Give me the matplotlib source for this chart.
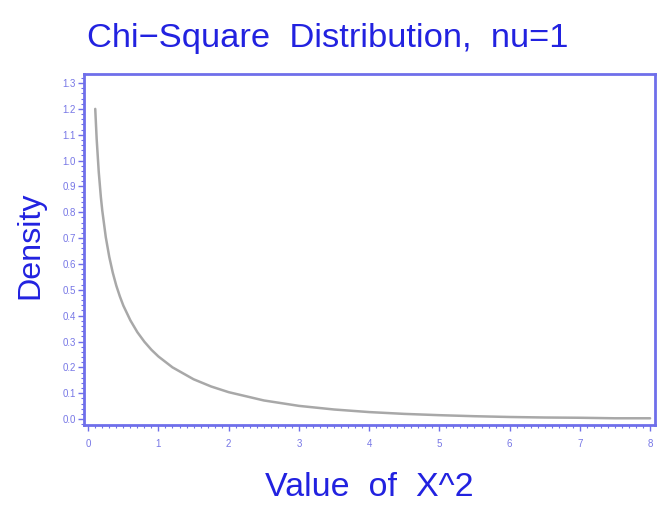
import matplotlib
matplotlib.use("Agg")
import matplotlib.pyplot as plt
from matplotlib.ticker import MultipleLocator, FormatStrFormatter

# Values
x_vals = [0.1, 0.12, 0.15, 0.18, 0.2, 0.25, 0.3, 0.35, 0.4, 0.45, 0.5, 0.6, 0.7,
          0.8, 0.9, 1.0, 1.2, 1.5, 1.75, 2.0, 2.5, 3.0, 3.5, 4.0, 4.5, 5.0,
          5.5, 6.0, 6.5, 7.0, 7.5, 8.0]
density = [1.200, 1.085, 0.956, 0.859, 0.807, 0.704, 0.627, 0.566, 0.516, 0.475,
           0.439, 0.382, 0.336, 0.299, 0.268, 0.242, 0.200, 0.154, 0.126, 0.104,
           0.072, 0.051, 0.037, 0.027, 0.020, 0.015, 0.011, 0.008, 0.006, 0.005,
           0.003, 0.003]
x_ticks = [0, 1, 2, 3, 4, 5, 6, 7, 8]
y_ticks = [0.0, 0.1, 0.2, 0.3, 0.4, 0.5, 0.6, 0.7, 0.8, 0.9, 1.0, 1.1, 1.2, 1.3]

title_c = "#2222E0"
axis_c = "#6F6FEA"
tick_lab_c = "#7777E6"

plt.rcParams['font.family'] = ['Liberation Sans', 'DejaVu Sans']

fig = plt.figure(figsize=(6.59, 5.23), dpi=100)
ax = fig.add_axes([84/659, 1-425/523, (655-84)/659, (425-74)/523])

ax.plot(x_vals, density, color="#A8A8A8", lw=1.8, solid_capstyle='round')

ax.set_xlim(-0.06, 8.07)
ax.set_ylim(-0.023, 1.335)
ax.set_xticks(x_ticks)
ax.set_yticks(y_ticks)
ax.yaxis.set_major_formatter(FormatStrFormatter('%.1f'))
ax.xaxis.set_minor_locator(MultipleLocator(0.1))
ax.yaxis.set_minor_locator(MultipleLocator(0.02))

for s in ax.spines.values():
    s.set_color(axis_c)
    s.set_linewidth(2.0)

ax.tick_params(axis='both', which='major', direction='out', length=4, width=1,
               color=axis_c, labelcolor=tick_lab_c, labelsize=7, pad=2)
ax.tick_params(axis='both', which='minor', direction='out', length=2, width=0.8,
               color=axis_c)
ax.tick_params(axis='x', which='major', pad=6)

fig.text(0.498, 1-38/523, "Chi\u2212Square  Distribution,  nu=1", color=title_c,
         fontsize=24.8, ha='center', va='center')
fig.text(265/659, 1-488/523, "Value  of  X^2", color=title_c,
         fontsize=24.5, ha='left', va='center')
fig.text(30/659, 1-245/523, "Density", color=title_c, fontsize=23.2,
         rotation=90, ha='center', va='center')

fig.savefig("out.png", dpi=100)
